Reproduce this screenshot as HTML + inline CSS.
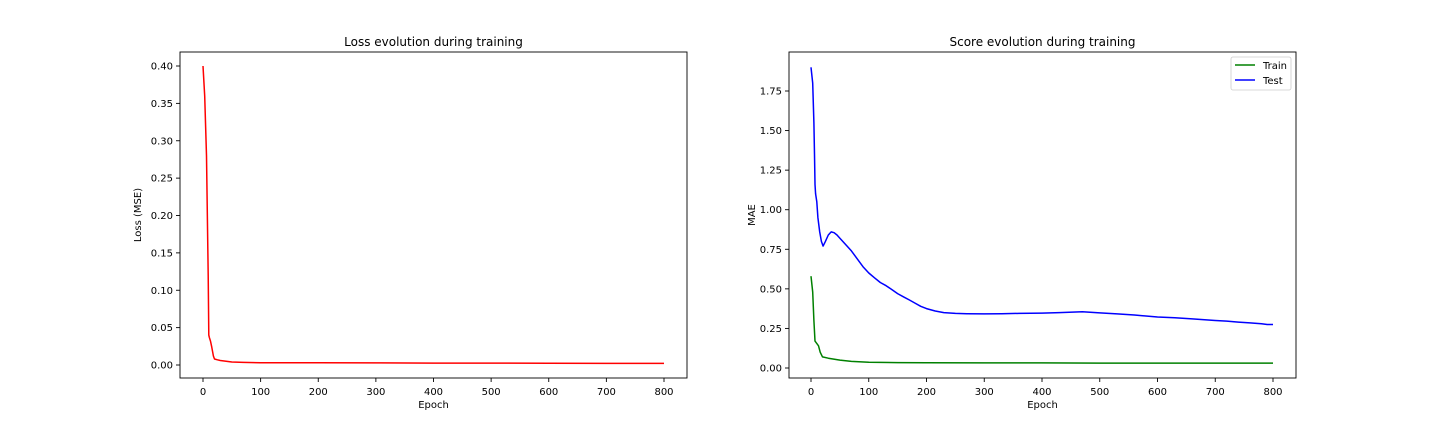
<!DOCTYPE html>
<html><head><meta charset="utf-8"><style>
body{margin:0;background:#fff}
svg{display:block;font-family:"DejaVu Sans","Liberation Sans",sans-serif}
</style></head><body>
<svg id="c" width="1440" height="432" viewBox="0 0 1440 432"></svg>
<script>
const lossEpochs=[0,3,6,9,10,11,13,15,18,20,25,30,40,50,70,100,150,200,300,400,500,600,700,800];
const lossValues=[0.40,0.36,0.28,0.12,0.04,0.037,0.032,0.025,0.012,0.008,0.007,0.006,0.005,0.004,0.0035,0.003,0.003,0.003,0.0028,0.0026,0.0025,0.0023,0.0022,0.0021];
const trainEpochs=[0,3,5,7,9,13,16,20,30,50,70,100,150,200,300,400,500,600,700,800];
const trainValues=[0.58,0.48,0.30,0.17,0.16,0.14,0.10,0.07,0.062,0.05,0.042,0.036,0.034,0.033,0.032,0.032,0.031,0.031,0.031,0.031];
const testEpochs=[0,3,5,6,7,8,10,12,15,18,21,25,30,35,40,45,50,60,70,80,90,100,110,120,130,140,150,160,170,180,190,200,215,230,250,270,300,330,360,400,430,470,500,530,560,600,630,660,700,720,740,760,780,790,800];
const testValues=[1.90,1.80,1.55,1.35,1.16,1.10,1.05,0.95,0.86,0.80,0.77,0.80,0.84,0.86,0.855,0.84,0.82,0.78,0.74,0.69,0.64,0.60,0.57,0.54,0.52,0.495,0.47,0.45,0.43,0.41,0.39,0.375,0.36,0.35,0.345,0.343,0.342,0.343,0.345,0.347,0.35,0.355,0.348,0.342,0.335,0.322,0.318,0.31,0.30,0.296,0.29,0.285,0.28,0.275,0.275];
const lossYTicks=[0,0.05,0.1,0.15,0.2,0.25,0.3,0.35,0.4];
const maeYTicks=[0,0.25,0.5,0.75,1,1.25,1.5,1.75];
const xTicks=[0,100,200,300,400,500,600,700,800];

const svg=document.getElementById('c');
const NS='http://www.w3.org/2000/svg';
function el(tag,attrs,parent){const e=document.createElementNS(NS,tag);for(const k in attrs)e.setAttribute(k,attrs[k]);(parent||svg).appendChild(e);return e;}
function txt(s,attrs,parent){const t=el('text',attrs,parent);t.textContent=s;return t;}

function panel(name,box,xr,yr,yticks,yfmt,title,ylabel){
  const g=el('g',{});
  
  
  const sx=v=>box.x0+(v-xr[0])/(xr[1]-xr[0])*(box.x1-box.x0);
  const sy=v=>box.y1-(v-yr[0])/(yr[1]-yr[0])*(box.y1-box.y0);
  const fr=el('rect',{x:box.x0,y:box.y0,width:box.x1-box.x0,height:box.y1-box.y0,fill:'none',stroke:'#000','stroke-width':0.9},g);
  
  xTicks.forEach(v=>{const x=sx(v);el('line',{x1:x,x2:x,y1:box.y1,y2:box.y1+4,stroke:'#000','stroke-width':0.9},g);
    const t=txt(String(v),{x:x,y:box.y1+17,'font-size':10,'text-anchor':'middle'},g);});
  yticks.forEach(v=>{const y=sy(v);el('line',{x1:box.x0-4,x2:box.x0,y1:y,y2:y,stroke:'#000','stroke-width':0.9},g);
    const t=txt(yfmt(v),{x:box.x0-7,y:y+3.5,'font-size':10,'text-anchor':'end'},g);});
  const tt=txt(title,{x:(box.x0+box.x1)/2,y:box.y0-6,'font-size':12,'text-anchor':'middle'},g);
  
  const xl=txt('Epoch',{x:(box.x0+box.x1)/2,y:box.y1+30,'font-size':10,'text-anchor':'middle'},g);
  
  const yx=box.x0-(ylabel==='MAE'?34:39), yy=(box.y0+box.y1)/2;
  const yl=txt(ylabel,{x:yx,y:yy,'font-size':10,'text-anchor':'middle',transform:`rotate(-90 ${yx} ${yy})`},g);
  
  return {g,sx,sy};
}
function line(p,xs,ys,color,name){
  const pts=xs.map((x,i)=>p.sx(x).toFixed(1)+','+p.sy(ys[i]).toFixed(1)).join(' ');
  const l=el('polyline',{points:pts,fill:'none',stroke:color,'stroke-width':1.5,'stroke-linejoin':'round'},p.g);
  
}
// left: x 0->203, 800->664 ; y 0->365, 0.4->66
const L=panel('loss-chart',{x0:180,x1:687,y0:52,y1:378},[0-203*800/461+180*800/461,0],[0,0.4],lossYTicks,v=>v.toFixed(2),'Loss evolution during training','Loss (MSE)');
</script>
<script>
// recompute scales precisely from pixel mapping
</script>
<script>
(function(){})();
</script>
<script>
// Replace panels with precise mapping
svg.innerHTML='';
function panel2(name,box,px0,px800,py0,pyTop,vTop,yticks,yfmt,title,ylabel){
  const xr=[(box.x0-px0)/(px800-px0)*800,(box.x1-px0)/(px800-px0)*800];
  const k=(py0-pyTop)/vTop;
  const yr=[(py0-box.y1)/k,(py0-box.y0)/k];
  return panel(name,box,xr,yr,yticks,yfmt,title,ylabel);
}
const PL=panel2('loss-chart',{x0:180,x1:687,y0:52,y1:378},203,664,365,66,0.4,lossYTicks,v=>v.toFixed(2),'Loss evolution during training','Loss (MSE)');
line(PL,lossEpochs,lossValues,'#ff0000','loss-line');
const PR=panel2('mae-chart',{x0:789,x1:1296,y0:52,y1:378},811,1273,368,91,1.75,maeYTicks,v=>v.toFixed(2),'Score evolution during training','MAE');
line(PR,trainEpochs,trainValues,'#008000','train-line');
line(PR,testEpochs,testValues,'#0000ff','test-line');
const lg=el('g',{});


el('rect',{x:1231,y:57,width:60,height:33,rx:2,fill:'#fff',stroke:'#ccc','stroke-width':0.8},lg);
el('line',{x1:1235,x2:1255,y1:65,y2:65,stroke:'#008000','stroke-width':1.5},lg);
el('line',{x1:1235,x2:1255,y1:80,y2:80,stroke:'#0000ff','stroke-width':1.5},lg);
const e1=txt('Train',{x:1263,y:69,'font-size':10},lg);


const e2=txt('Test',{x:1263,y:84,'font-size':10},lg);


</script>
</body></html>
